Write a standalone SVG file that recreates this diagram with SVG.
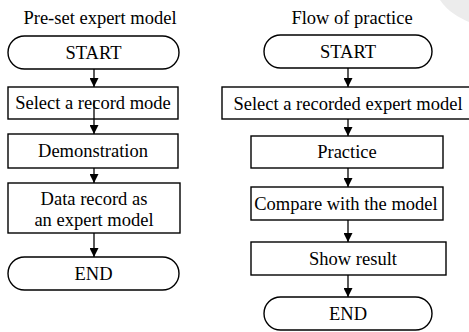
<svg xmlns="http://www.w3.org/2000/svg" width="469" height="332" viewBox="0 0 469 332">
<defs>
<marker id="arr" viewBox="0 0 10 10" refX="10" refY="5" markerWidth="9" markerHeight="9" markerUnits="userSpaceOnUse" orient="auto">
<path d="M0,0 L10,5 L0,10 Z" fill="#000"/>
</marker>
</defs>
<style>
.box{fill:#fff;stroke:#000;stroke-width:1.4}
.t{font-family:"Liberation Serif","Times New Roman",serif;font-size:18.5px;fill:#000;text-anchor:middle}
.c{stroke:#000;stroke-width:1.3;fill:none;marker-end:url(#arr)}
</style>
<rect width="469" height="332" fill="#fff"/>
<path d="M440,0 L469,0 L469,22 C460,18 448,12 440,0 Z" fill="#ececec"/>
<text class="t" x="100" y="24">Pre-set expert model</text>
<text class="t" x="352" y="24">Flow of practice</text>
<g id="l-start"><rect class="box" x="8" y="36" width="171" height="33" rx="16.5"/><text class="t" x="93.5" y="59">START</text></g>
<g id="l-select"><rect class="box" x="8" y="87" width="170" height="32"/><text class="t" x="93" y="109">Select a record mode</text></g>
<g id="l-demo"><rect class="box" x="8" y="134" width="170" height="34"/><text class="t" x="93" y="157">Demonstration</text></g>
<g id="l-data"><rect class="box" x="8" y="183" width="172" height="50"/><text class="t" x="94" y="205">Data record as</text><text class="t" x="94" y="226">an expert model</text></g>
<g id="l-end"><rect class="box" x="8" y="257" width="171" height="33" rx="16.5"/><text class="t" x="93.5" y="280">END</text></g>
<g id="r-start"><rect class="box" x="264" y="35" width="168" height="33" rx="16.5"/><text class="t" x="348" y="58">START</text></g>
<g id="r-select"><rect class="box" x="222" y="87" width="252" height="32"/><text class="t" x="348" y="110">Select a recorded expert model</text></g>
<g id="r-practice"><rect class="box" x="251" y="136" width="192" height="32"/><text class="t" x="347" y="158">Practice</text></g>
<g id="r-compare"><rect class="box" x="251" y="187" width="192" height="33"/><text class="t" x="346" y="210">Compare with the model</text></g>
<g id="r-show"><rect class="box" x="251" y="242" width="195" height="33"/><text class="t" x="353" y="265">Show result</text></g>
<g id="r-end"><rect class="box" x="264" y="297" width="168" height="33" rx="16.5"/><text class="t" x="348" y="320">END</text></g>
<g id="connectors">
<line class="c" x1="94" y1="69" x2="94" y2="87"/>
<line class="c" x1="94" y1="100" x2="94" y2="134"/>
<line class="c" x1="94" y1="168" x2="94" y2="183"/>
<line class="c" x1="94" y1="233" x2="94" y2="257"/>
<line class="c" x1="348" y1="68" x2="348" y2="87"/>
<line class="c" x1="348" y1="119" x2="348" y2="136"/>
<line class="c" x1="348" y1="168" x2="348" y2="187"/>
<line class="c" x1="348" y1="220" x2="348" y2="242"/>
<line class="c" x1="348" y1="275" x2="348" y2="297"/>
</g>
</svg>
